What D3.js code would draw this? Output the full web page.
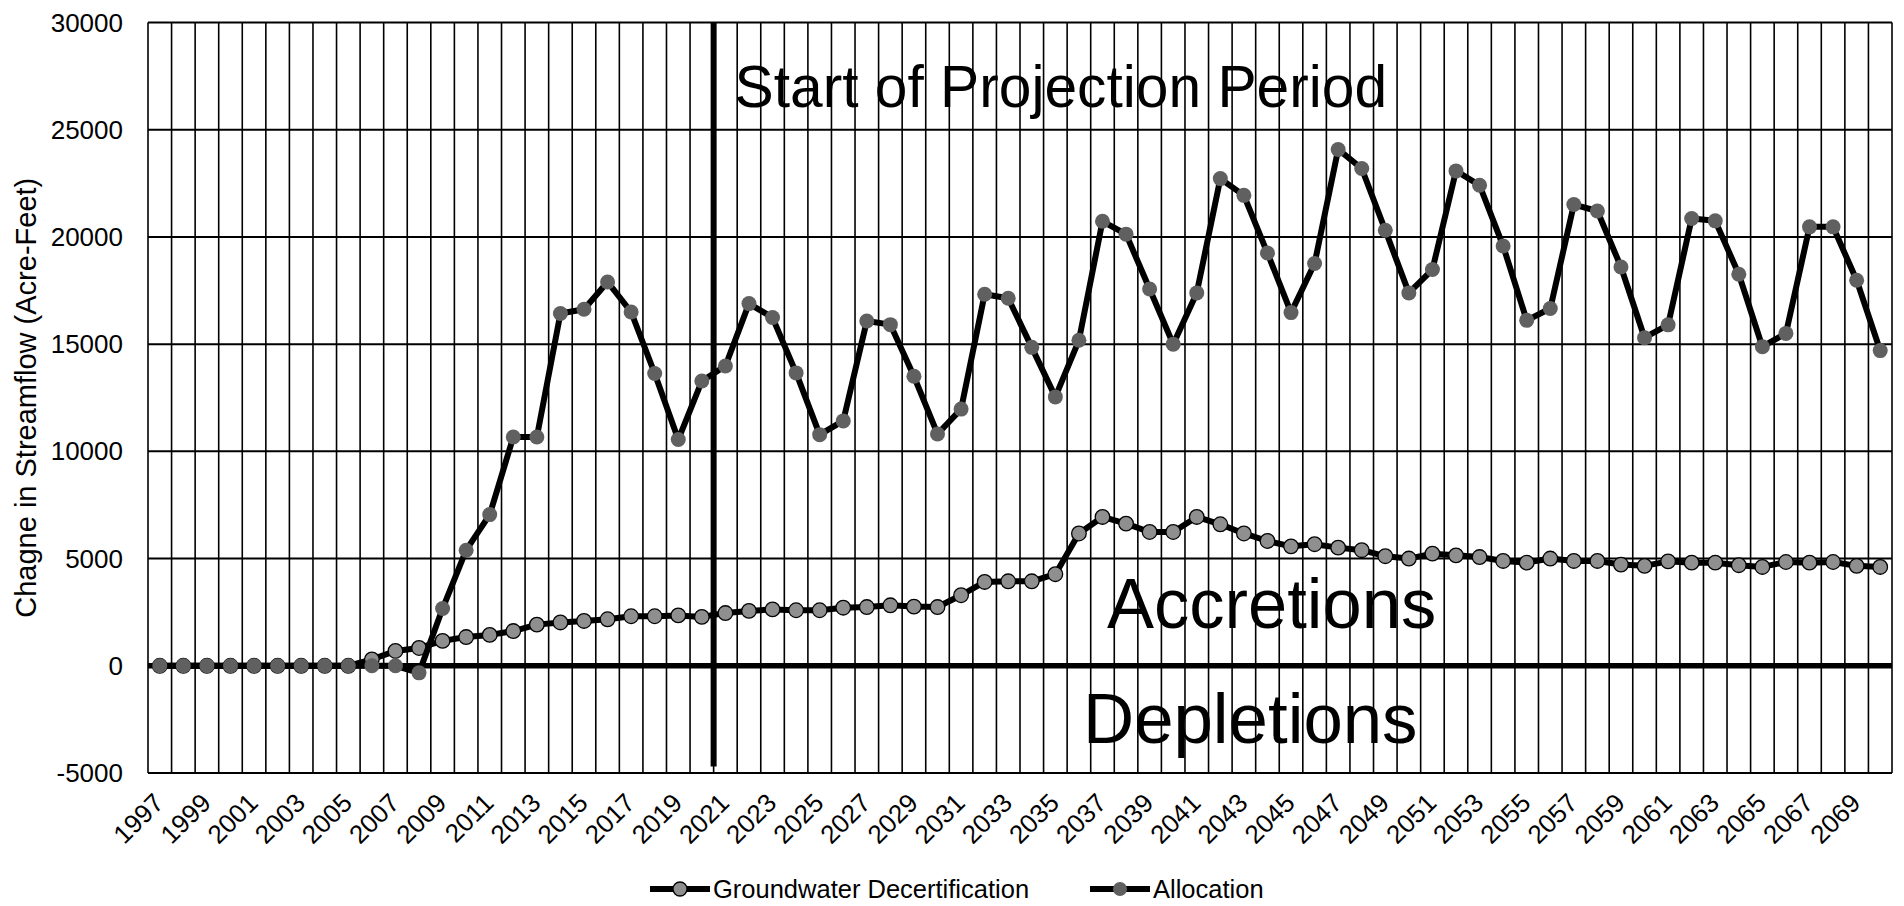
<!DOCTYPE html>
<html><head><meta charset="utf-8">
<script src="https://cdn.jsdelivr.net/npm/d3@7/dist/d3.min.js"></script>
<style>
body{margin:0;background:#fff}
svg{display:block}
text{font-family:"Liberation Sans",Arial,Helvetica,sans-serif;fill:#000}
</style>
</head><body>
<svg id="chart" width="1904" height="906"></svg>
<script>
const years = [1997,1998,1999,2000,2001,2002,2003,2004,2005,2006,2007,2008,2009,2010,2011,2012,2013,2014,2015,2016,2017,2018,2019,2020,2021,2022,2023,2024,2025,2026,2027,2028,2029,2030,2031,2032,2033,2034,2035,2036,2037,2038,2039,2040,2041,2042,2043,2044,2045,2046,2047,2048,2049,2050,2051,2052,2053,2054,2055,2056,2057,2058,2059,2060,2061,2062,2063,2064,2065,2066,2067,2068,2069,2070];

const groundwater = [0,0,0,0,0,0,0,0,0,300,690,830,1160,1340,1440,1620,1920,2020,2090,2170,2310,2310,2350,2280,2460,2560,2630,2590,2590,2710,2740,2820,2760,2740,3290,3910,3940,3940,4270,6170,6940,6630,6240,6240,6940,6600,6170,5820,5570,5670,5510,5390,5110,5000,5230,5150,5070,4890,4810,5000,4890,4890,4720,4660,4870,4810,4810,4690,4610,4840,4810,4840,4660,4610];

const allocation = [0,0,0,0,0,0,0,0,0,0,0,-330,2670,5390,7050,10670,10670,16430,16630,17900,16500,13630,10550,13280,13980,16890,16240,13660,10780,11420,16080,15910,13500,10810,11970,17330,17140,14850,12540,15180,20730,20130,17570,15000,17390,22720,21940,19250,16470,18760,24080,23190,20310,17390,18480,23080,22410,19580,16110,16660,21510,21210,18600,15300,15900,20860,20750,18260,14880,15500,20470,20470,17980,14700];

const yTicks = [-5000,0,5000,10000,15000,20000,25000,30000];
const xTickLabels = [1997,1999,2001,2003,2005,2007,2009,2011,2013,2015,2017,2019,2021,2023,2025,2027,2029,2031,2033,2035,2037,2039,2041,2043,2045,2047,2049,2051,2053,2055,2057,2059,2061,2063,2065,2067,2069];
const projectionStart = 2021;
const seriesNames = ["Groundwater Decertification","Allocation"];

const svg = d3.select("#chart");
const L = 148, R = 1892, T = 22.5, B = 773;

const x = d3.scaleBand().domain(years).range([L, R]).padding(0);
const y = d3.scaleLinear().domain([-5000, 30000]).range([B, T]);
const cx = d => x(d) + x.bandwidth() / 2;

// vertical gridlines at category boundaries
const bounds = years.map(d => x(d)).concat([R]);
svg.append("g").selectAll("line").data(bounds).join("line")
  .attr("x1", d => d).attr("x2", d => d).attr("y1", T).attr("y2", B)
  .attr("stroke", "#000").attr("stroke-width", 1.6);

// horizontal gridlines
svg.append("g").selectAll("line").data(yTicks.filter(v => v !== 0)).join("line")
  .attr("x1", L).attr("x2", R).attr("y1", d => y(d)).attr("y2", d => y(d))
  .attr("stroke", "#000").attr("stroke-width", 2);

// zero line
svg.append("line").attr("x1", L).attr("x2", R).attr("y1", y(0)).attr("y2", y(0))
  .attr("stroke", "#000").attr("stroke-width", 5.5);

// start of projection line
svg.append("line").attr("x1", x(projectionStart)).attr("x2", x(projectionStart))
  .attr("y1", T).attr("y2", y(-4700))
  .attr("stroke", "#000").attr("stroke-width", 6);

// y tick labels
svg.append("g").selectAll("text").data(yTicks).join("text")
  .attr("x", 123).attr("y", d => y(d)).attr("dy", "0.35em")
  .attr("text-anchor", "end").attr("font-size", 26).text(d => d);

// x tick labels
svg.append("g").selectAll("text").data(xTickLabels).join("text")
  .attr("transform", d => `translate(${cx(d) - 1},${B + 25}) rotate(-45)`)
  .attr("text-anchor", "end").attr("dy", "0.35em")
  .attr("font-size", 26).text(d => d);

// y axis title
svg.append("text")
  .attr("transform", `translate(36,${(T + B) / 2}) rotate(-90)`)
  .attr("text-anchor", "middle").attr("font-size", 29)
  .text("Chagne in Streamflow (Acre-Feet)");

// annotations
svg.append("text").attr("x", x(projectionStart) + 21).attr("y", y(26050))
  .attr("font-size", 58.7).text("Start of Projection Period");
svg.append("text").attr("x", 1107).attr("y", y(1750))
  .attr("font-size", 70.5).text("Accretions");
svg.append("text").attr("x", 1083).attr("y", y(-3615))
  .attr("font-size", 70.8).text("Depletions");

const line = d3.line().x((d, i) => cx(years[i])).y(d => y(d));

// groundwater series
svg.append("path").datum(groundwater).attr("d", line)
  .attr("fill", "none").attr("stroke", "#000").attr("stroke-width", 6).attr("stroke-linejoin", "round");
svg.append("g").selectAll("circle").data(groundwater).join("circle")
  .attr("cx", (d, i) => cx(years[i])).attr("cy", d => y(d)).attr("r", 7.3)
  .attr("fill", "#8f8f8f").attr("stroke", "#000").attr("stroke-width", 1.3);

// allocation series
svg.append("path").datum(allocation).attr("d", line)
  .attr("fill", "none").attr("stroke", "#000").attr("stroke-width", 6).attr("stroke-linejoin", "round");
svg.append("g").selectAll("circle").data(allocation).join("circle")
  .attr("cx", (d, i) => cx(years[i])).attr("cy", d => y(d)).attr("r", 7.5)
  .attr("fill", "#606060");

// legend
const legY = 889;
const leg = [
  {name: seriesNames[0], x0: 650, fill: "#8f8f8f", stroke: "#000"},
  {name: seriesNames[1], x0: 1090, fill: "#606060", stroke: "none"}
];
const lg = svg.append("g").selectAll("g").data(leg).join("g");
lg.append("line").attr("x1", d => d.x0).attr("x2", d => d.x0 + 60)
  .attr("y1", legY).attr("y2", legY).attr("stroke", "#000").attr("stroke-width", 6);
lg.append("circle").attr("cx", d => d.x0 + 30).attr("cy", legY).attr("r", 7)
  .attr("fill", d => d.fill).attr("stroke", d => d.stroke).attr("stroke-width", 1.3);
lg.append("text").attr("x", d => d.x0 + 63).attr("y", legY).attr("dy", "0.35em")
  .attr("font-size", 25.5).text(d => d.name);
</script>
</body></html>
